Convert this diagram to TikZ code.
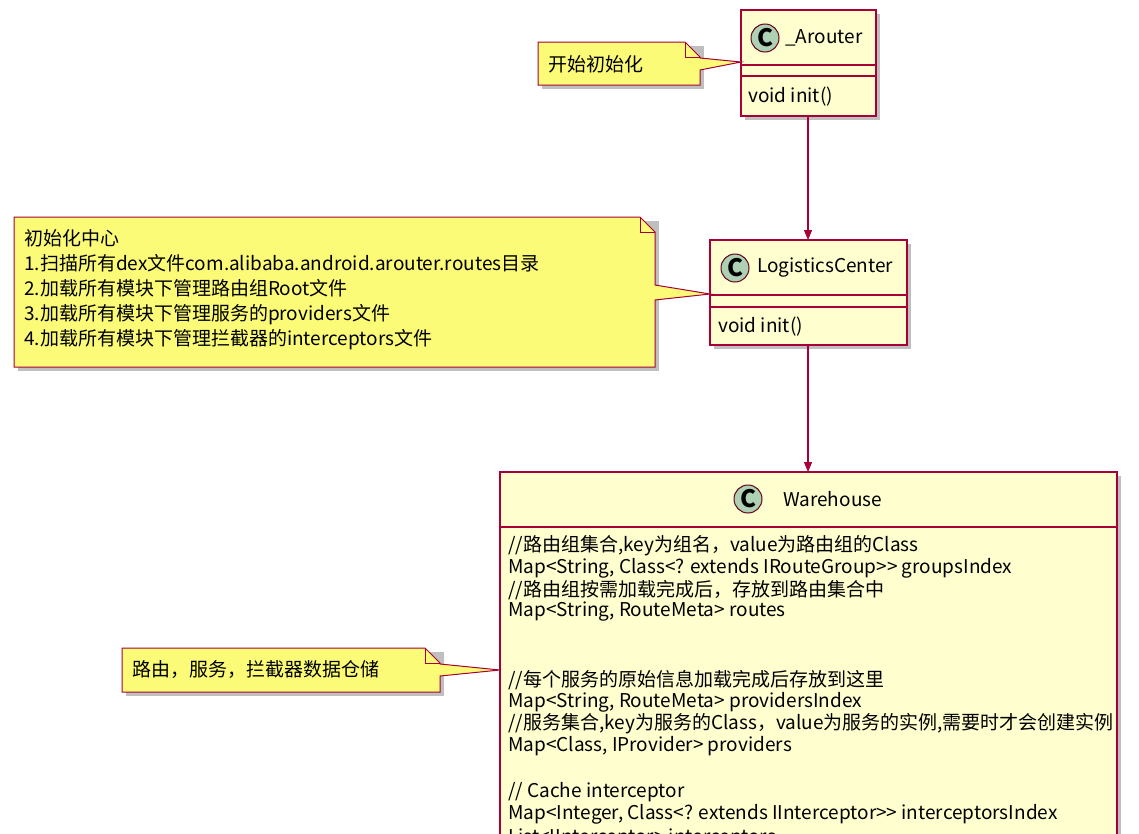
\documentclass[tikz,border=0pt]{standalone}
\usepackage{fontspec}
\setmainfont{Noto Sans CJK SC}
\usetikzlibrary{arrows.meta}
\definecolor{cfill}{HTML}{FEFECE}
\definecolor{cbord}{HTML}{A80036}
\definecolor{nfill}{HTML}{FBFB77}
\definecolor{circ}{HTML}{ADD1B2}
\tikzset{x=1pt,y=-1pt,
 cls/.style={draw=cbord,fill=cfill,line width=1.3pt},
 nt/.style={draw=cbord,fill=nfill,line width=1pt},
 shadow/.style={fill=black!25},
 txt/.style={anchor=west,inner sep=0pt,font=\fontsize{19}{22}\selectfont},
 conn/.style={draw=cbord,line width=1.1pt,-{Triangle[length=10pt,width=8pt]}},
 cc/.style={circle,draw=cbord!60!black,fill=circ,line width=1pt,minimum size=28pt,inner sep=0pt,font=\fontseries{b}\fontsize{24}{24}\selectfont}}
\newcommand{\klass}[7]{% name x1 y1 x2 y2 yempty ymeth
 \fill[shadow] (#2+4,#3+4) rectangle (#4+4,#5+4);
 \path[cls] (#2,#3) rectangle (#4,#5);
 \draw[cbord,line width=1.1pt] (#2,#6) -- (#4,#6) (#2,#7) -- (#4,#7);}
\begin{document}
\begin{tikzpicture}
\useasboundingbox (0,0) rectangle (1139,833);
\fill[white] (0,0) rectangle (1139,833);
% _Arouter
\klass{a}{741}{10}{876}{116}{65}{76}
\node[cc] (ac) at (765,38) {C};
\node[txt] (an) at (785,38) {\_Arouter};
\node[txt] (am) at (748,97) {void init()};
\coordinate (abot) at (808,116);
% note 1
\fill[shadow] (542,46) rectangle (704,89);
\path[nt] (538,42) -- (685,42) -- (700,57) -- (700,58) -- (741,62) -- (700,70) -- (700,85) -- (538,85) -- cycle;
\draw[cbord,line width=1pt] (685,42) -- (685,57) -- (700,57);
\node[txt] (n1) at (548,64) {开始初始化};
% LogisticsCenter
\klass{l}{710}{240}{907}{345}{295}{307}
\node[cc] (lc) at (735,268) {C};
\node[txt] (ln) at (757,268) {LogisticsCenter};
\node[txt] (lm) at (718,327) {void init()};
\coordinate (ltop) at (808,240);
\coordinate (lbot) at (808,345);
% note 2
\fill[shadow] (18,221) rectangle (659,371);
\path[nt] (14,217) -- (640,217) -- (655,232) -- (655,285) -- (710,294) -- (655,300) -- (655,367) -- (14,367) -- cycle;
\draw[cbord,line width=1pt] (640,217) -- (640,232) -- (655,232);
\node[anchor=north west,inner sep=0pt,align=left,font=\fontsize{19}{25}\selectfont] (n2) at (24,229) {初始化中心\\1.扫描所有dex文件com.alibaba.android.arouter.routes目录\\2.加载所有模块下管理路由组Root文件\\3.加载所有模块下管理服务的providers文件\\4.加载所有模块下管理拦截器的interceptors文件};
% Warehouse
\fill[shadow] (504,476) rectangle (1121,850);
\path[cls] (500,472) rectangle (1117,850);
\draw[cbord,line width=1.1pt] (500,527) -- (1117,527);
\node[cc] (wc) at (748,499) {C};
\node[txt] (wn) at (783,499) {Warehouse};
\coordinate (wtop) at (808,472);
\foreach \t/\y in {{//路由组集合,key为组名，value为路由组的Class}/546,
 {Map<String, Class<? extends IRouteGroup>{}> groupsIndex}/568,
 {//路由组按需加载完成后，存放到路由集合中}/590,
 {Map<String, RouteMeta> routes}/612,
 {//每个服务的原始信息加载完成后存放到这里}/680,
 {Map<String, RouteMeta> providersIndex}/702,
 {//服务集合,key为服务的Class，value为服务的实例,需要时才会创建实例}/724,
 {Map<Class, IProvider> providers}/746,
 {// Cache interceptor}/792,
 {Map<Integer, Class<? extends IInterceptor>{}> interceptorsIndex}/814,
 {List<IInterceptor> interceptors}/838}
 \node[txt] at (508,\y) {\t};
% note 3
\fill[shadow] (126,652) rectangle (444,696);
\path[nt] (122,648) -- (425,648) -- (440,663) -- (440,664) -- (500,670) -- (440,676) -- (440,692) -- (122,692) -- cycle;
\draw[cbord,line width=1pt] (425,648) -- (425,663) -- (440,663);
\node[txt] (n3) at (132,670) {路由，服务，拦截器数据仓储};
% connectors
\draw[conn] (abot) -- (ltop);
\draw[conn] (lbot) -- (wtop);
\end{tikzpicture}
\end{document}
